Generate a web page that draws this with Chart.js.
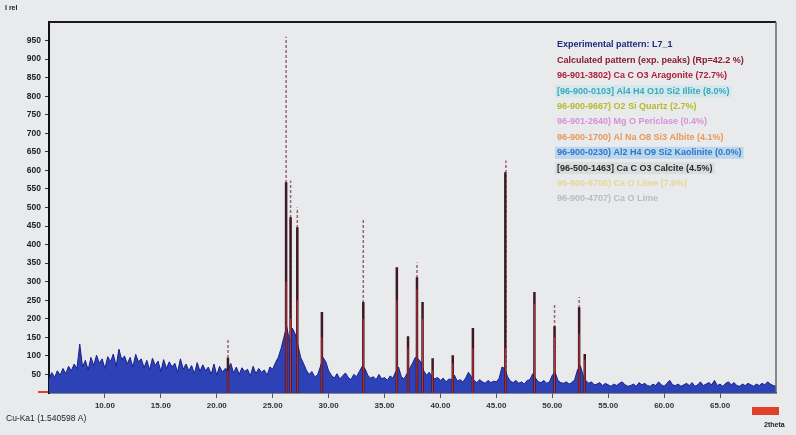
<!DOCTYPE html>
<html><head><meta charset="utf-8">
<script src="https://cdn.jsdelivr.net/npm/chart.js@4"></script>
<style>html,body{margin:0;padding:0;background:#e8eaeb;}#wrap{width:796px;height:435px;position:relative;}</style>
</head><body><div id="wrap"><canvas id="c" width="796" height="435"></canvas></div>
<script>
// ---- DATA ----
const angleStart = 5, angleStep = 0.25;
const expIntensity = [
 38,55,42,60, 48,66,52,72, 60,78,66,132, 70,88,62,96, 74,102,80,92,
 66,98,84,105, 72,118,90,100, 78,96,70,104, 84,92,68,88, 62,94,74,86,
 58,90,66,84, 70,80,56,92, 64,78,60,74, 52,82,58,76, 60,70,50,78,
 48,72,56,66, 62,80,54,70, 50,68,58,64, 46,72,52,66, 56,62,48,70,
 64,82,96,120, 150,180,140,175, 160,130,96,80, 62,50,58,44, 48,70,96,84,
 60,48,40,52, 38,46,54,42, 36,50,44,58, 72,66,48,40, 44,36,50,38,
 42,34,46,40, 58,70,44,38, 52,66,80,96, 92,84,60,48, 56,44,38,42,
 34,40,30,38, 36,48,32,36, 30,40,56,44, 34,28,36,30, 26,34,28,32,
 30,40,70,66, 44,32,28,34, 26,30,24,34, 36,52,40,30, 28,34,26,30,
 48,56,34,28, 26,30,24,28, 36,62,74,48, 34,26,30,22, 24,28,20,26,
 22,18,24,20, 26,30,22,18, 20,24,18,28, 22,26,20,18, 24,20,30,22,
 18,26,34,22, 20,24,18,22, 26,20,28,18, 22,30,20,24, 28,22,34,20,
 24,18,26,30, 22,28,20,18, 24,20,26,22, 18,24,20,26, 22,30,24,20,
 18
];
const peakPos     = [21.0, 26.2, 26.6, 27.2, 29.4, 33.1, 36.1, 37.1, 37.9, 38.4, 39.3, 41.1, 42.9, 45.8, 48.4, 50.2, 52.4, 52.9];
const peakHeights = [95,   568,  474,  447,  218,  245,  339,  153,  312,  245,  94,   102,  175,  595,  272,  180,  231,  105];
const calcHeights = [60,   300,  200,  250,  150,  200,  250,  120,  280,  200,  60,   80,   120,  120,  240,  150,  160,  90];
const refPos      = [21.0, 26.2, 26.6, 27.2, 33.1, 37.9, 45.85, 50.2, 52.4];
const refHeights  = [143,  960,  573,  500,  466,  352,  627,   242,  259];
const xTickValues = [10,15,20,25,30,35,40,45,50,55,60,65];
const yTickValues = [50,100,150,200,250,300,350,400,450,500,550,600,650,700,750,800,850,900,950];
const legendLabels = [
 "Experimental pattern: L7_1",
 "Calculated pattern (exp. peaks) (Rp=42.2 %)",
 "96-901-3802) Ca C O3 Aragonite (72.7%)",
 "[96-900-0103] Al4 H4 O10 Si2 Illite (8.0%)",
 "96-900-9667) O2 Si Quartz (2.7%)",
 "96-901-2640) Mg O Periclase (0.4%)",
 "96-900-1700) Al Na O8 Si3 Albite (4.1%)",
 "96-900-0230) Al2 H4 O9 Si2 Kaolinite (0.0%)",
 "[96-500-1463] Ca C O3 Calcite (4.5%)",
 "96-900-6705) Ca O Lime (7.6%)",
 "96-900-4707) Ca O Lime"
];
const legendColors = ["#1c2a80","#8a1a30","#b01c38","#3aa8b8","#b4bc2c","#d890d8","#e8985a","#2a78c8","#2a2a2a","#e4d898","#b4bccb"];
const legendBg     = [null,null,null,"#d2e8ec",null,null,null,"#bcd6ee","#dadcdd",null,null];

// ---- build ----
const expData = expIntensity.map((v,i)=>({x: angleStart + i*angleStep, y: v}));
function sticks(pos, h){ const out=[]; pos.forEach((p,i)=>{out.push({x:p,y:0},{x:p,y:h[i]},{x:p,y:null});}); return out; }

const textPlugin = {
  id:'texts',
  afterDraw(chart){
    const ctx = chart.ctx, a = chart.chartArea;
    ctx.save();
    ctx.strokeStyle='#1a1a1a'; ctx.lineWidth=2;
    ctx.beginPath(); ctx.moveTo(a.left, a.top); ctx.lineTo(a.right, a.top); ctx.stroke();
    ctx.strokeStyle='#666'; ctx.lineWidth=1.5;
    ctx.beginPath(); ctx.moveTo(a.right, a.top); ctx.lineTo(a.right, a.bottom); ctx.stroke();
    ctx.font = 'bold 9px "Liberation Sans", Arial, sans-serif';
    ctx.textBaseline='middle';
    legendLabels.forEach((t,i)=>{
      const y = 45 + i*15.4, x = 557;
      const w = ctx.measureText(t).width;
      if (legendBg[i]) { ctx.fillStyle = legendBg[i]; ctx.fillRect(x-2, y-6, w+4, 12); }
      ctx.fillStyle = legendColors[i];
      ctx.fillText(t, x, y);
    });
    ctx.fillStyle='#222';
    ctx.font='bold 7px "Liberation Sans", Arial, sans-serif';
    ctx.fillText('I rel', 5, 8);
    ctx.font='8.5px "Liberation Sans", Arial, sans-serif';
    ctx.fillText('Cu-Ka1 (1.540598 A)', 6, 419);
    ctx.font='bold 7px "Liberation Sans", Arial, sans-serif';
    ctx.fillText('2theta', 764, 425);
    ctx.fillStyle='#e0402a';
    ctx.fillRect(752, 407, 27, 8);
    ctx.fillRect(38, 391, 10, 2);
    ctx.restore();
  }
};

new Chart(document.getElementById('c'), {
  type:'line',
  data:{ datasets:[
    { label:'ref', data: sticks(refPos, refHeights), borderColor:'#9a6472', borderWidth:1.5, borderDash:[3,2], pointRadius:0, spanGaps:false, order:5 },
    { label:'Experimental', data: expData, borderColor:'#16208a', backgroundColor:'#2e42b8', borderWidth:1, pointRadius:0, fill:'origin', tension:0, order:4 },
    { label:'peaks', data: sticks(peakPos, peakHeights), borderColor:'#3e1824', borderWidth:2.5, pointRadius:0, spanGaps:false, order:3 },
    { label:'calc', data: sticks(peakPos, calcHeights), borderColor:'#c8323a', borderWidth:1, pointRadius:0, spanGaps:false, order:2 }
  ]},
  options:{
    responsive:false, animation:false, devicePixelRatio:1,
    layout:{ padding:{ top:22, right:20, left:0, bottom:0 } },
    plugins:{ legend:{display:false}, tooltip:{enabled:false} },
    scales:{
      x:{ type:'linear', min:5, max:70,
        afterBuildTicks:s=>{ s.ticks = xTickValues.map(v=>({value:v})); },
        afterFit:s=>{ s.height = 42; },
        ticks:{ callback:v=>Number(v).toFixed(2), font:{size:8, weight:'bold', family:'"Liberation Sans", Arial'}, color:'#333', maxRotation:0, autoSkip:false, padding:3 },
        grid:{ drawOnChartArea:false, tickLength:5, color:'#555' },
        border:{ color:'#222', width:1.5 } },
      y:{ min:0, max:1000,
        afterBuildTicks:s=>{ s.ticks = yTickValues.map(v=>({value:v})); },
        afterFit:s=>{ s.width = 49; },
        ticks:{ font:{size:8.5, weight:'bold', family:'"Liberation Sans", Arial'}, color:'#222', padding:4, autoSkip:false },
        grid:{ drawOnChartArea:false, tickLength:4, color:'#333' },
        border:{ color:'#111', width:2 } }
    }
  },
  plugins:[textPlugin]
});
</script></body></html>
